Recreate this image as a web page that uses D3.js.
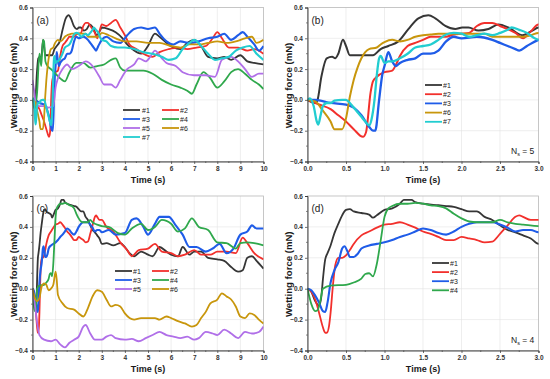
<!DOCTYPE html>
<html lang="en">
<head>
  <meta charset="UTF-8">
  <title>Wetting force</title>
  <script src="https://cdnjs.cloudflare.com/ajax/libs/d3/7.8.5/d3.min.js"></script>
  <style>
    body { margin: 0; background: #fff; }
    text { font-family: "Liberation Sans", Arial, sans-serif; }
  </style>
</head>
<body>
  <svg width="550" height="379"></svg>
  <script>
    // series for (a) and (b): [time (s), wetting force (mN)]
    const a1 = [[0,0],[0.1,-0.02],[0.13,0.0],[0.18,0.15],[0.25,0.27],[0.32,0.28],[0.36,0.27],[0.4,0.3],[0.46,0.39],[0.5,0.35],[0.55,0.29],[0.7,0.29],[0.85,0.29],[0.95,0.33],[1.05,0.35],[1.18,0.38],[1.31,0.46],[1.44,0.53],[1.57,0.55],[1.66,0.53],[1.79,0.48],[1.92,0.46],[2.01,0.47],[2.09,0.47],[2.22,0.45],[2.35,0.46],[2.48,0.49],[2.61,0.47],[2.79,0.42],[2.92,0.45],[3.0,0.47],
      [3.3,0.46],[3.6,0.44],[3.9,0.4],[4.1,0.36],[4.4,0.32],[4.7,0.3],[5.0,0.35],[5.3,0.43],[5.5,0.41],[5.8,0.37],[6.1,0.34],[6.4,0.33],[6.7,0.37],[7.0,0.39],[7.3,0.35],[7.6,0.28],[8.0,0.27],[8.3,0.28],[8.6,0.26],[9.0,0.29],[9.3,0.25],[9.6,0.24],[10,0.23]];
    const a2 = [[0,0],[0.15,-0.03],[0.3,-0.06],[0.4,-0.1],[0.5,-0.14],[0.6,-0.19],[0.72,-0.24],[0.76,-0.21],[0.82,0.05],[0.85,0.12],[0.9,0.15],[1.0,0.18],[1.1,0.19],[1.15,0.23],[1.2,0.285],[1.3,0.35],[1.4,0.37],[1.5,0.39],[1.6,0.41],[1.8,0.41],[1.9,0.425],[2.0,0.43],[2.1,0.435],[2.2,0.48],[2.3,0.5],[2.4,0.5],[2.5,0.48],[2.6,0.46],[2.7,0.435],[2.8,0.4],[2.9,0.445],[3.0,0.49],
      [3.2,0.48],[3.4,0.5],[3.6,0.52],[3.8,0.47],[4.0,0.42],[4.2,0.36],[4.5,0.33],[4.8,0.3],[5.2,0.28],[5.5,0.31],[5.9,0.33],[6.3,0.34],[6.7,0.33],[7.1,0.34],[7.5,0.35],[7.8,0.4],[8.0,0.44],[8.2,0.4],[8.5,0.34],[8.9,0.34],[9.3,0.32],[9.6,0.33],[10,0.3]];
    const a3 = [[0,0],[0.1,0.0],[0.3,-0.02],[0.5,-0.03],[0.6,-0.05],[0.7,-0.1],[0.8,-0.175],[0.85,-0.2],[0.88,-0.2],[0.93,0.0],[0.97,0.16],[1.0,0.22],[1.05,0.31],[1.1,0.25],[1.15,0.22],[1.2,0.24],[1.3,0.26],[1.4,0.27],[1.5,0.3],[1.6,0.3],[1.7,0.32],[1.8,0.38],[1.9,0.41],[2.0,0.4],[2.2,0.41],[2.4,0.39],[2.5,0.37],[2.6,0.35],[2.7,0.33],[2.75,0.32],[2.85,0.35],[3.0,0.39],
      [3.2,0.41],[3.5,0.38],[3.8,0.37],[4.1,0.42],[4.4,0.46],[4.7,0.47],[5.0,0.46],[5.3,0.47],[5.5,0.43],[5.8,0.38],[6.1,0.36],[6.4,0.38],[6.8,0.37],[7.2,0.38],[7.6,0.4],[8.0,0.41],[8.3,0.43],[8.6,0.39],[8.9,0.42],[9.1,0.44],[9.3,0.41],[9.6,0.36],[9.8,0.32],[10,0.35]];
    const a4 = [[0,0.0],[0.1,-0.06],[0.2,0.05],[0.3,0.3],[0.38,0.22],[0.45,0.39],[0.5,0.38],[0.56,0.25],[0.65,0.22],[0.8,0.2],[1.0,0.17],[1.2,0.14],[1.4,0.12],[1.6,0.18],[1.9,0.24],[2.2,0.24],[2.5,0.21],[2.8,0.22],[3.1,0.23],[3.4,0.26],[3.6,0.27],[3.8,0.21],[4.0,0.19],[4.4,0.19],[4.8,0.19],[5.2,0.17],[5.6,0.13],[6.0,0.1],[6.4,0.08],[6.7,0.06],[6.9,0.04],[7.1,0.1],[7.4,0.18],[7.7,0.14],[8.0,0.08],[8.3,0.12],[8.6,0.18],[8.9,0.2],[9.2,0.17],[9.5,0.13],[9.8,0.1],[10,0.07]];
    const a5 = [[0,0.13],[0.08,0.05],[0.15,-0.03],[0.3,-0.04],[0.5,-0.04],[0.7,-0.05],[0.9,-0.04],[1.0,0.08],[1.1,0.14],[1.3,0.2],[1.5,0.23],[1.7,0.2],[2.0,0.22],[2.3,0.25],[2.6,0.22],[2.9,0.15],[3.1,0.1],[3.4,0.1],[3.6,0.08],[3.8,0.13],[4.1,0.2],[4.4,0.23],[4.6,0.27],[4.9,0.25],[5.1,0.28],[5.3,0.32],[5.6,0.27],[5.8,0.24],[6.2,0.22],[6.5,0.18],[7.0,0.16],[7.5,0.16],[7.9,0.15],[8.2,0.26],[8.6,0.28],[8.9,0.25],[9.2,0.2],[9.5,0.15],[9.8,0.17],[10,0.17]];
    const a6 = [[0,0],[0.1,-0.01],[0.2,-0.07],[0.3,-0.14],[0.35,-0.19],[0.45,-0.19],[0.5,-0.12],[0.55,0.02],[0.6,0.13],[0.65,0.21],[0.7,0.27],[0.75,0.31],[0.8,0.33],[0.9,0.34],[0.95,0.36],[1.0,0.375],[1.1,0.39],[1.2,0.38],[1.3,0.39],[1.4,0.41],[1.5,0.42],[1.6,0.425],[1.7,0.43],[2.0,0.43],[2.3,0.43],[2.4,0.41],[2.5,0.41],[2.8,0.41],[2.9,0.42],[3.0,0.435],
      [3.3,0.42],[3.6,0.4],[4.0,0.38],[4.5,0.38],[5.0,0.37],[5.5,0.37],[6.0,0.35],[6.4,0.34],[6.8,0.36],[7.2,0.36],[7.6,0.37],[8.0,0.38],[8.4,0.37],[8.8,0.38],[9.2,0.4],[9.5,0.41],[9.7,0.37],[10,0.39]];
    const a7 = [[0,0],[0.03,0.01],[0.08,-0.04],[0.12,-0.14],[0.14,-0.16],[0.17,-0.1],[0.2,-0.04],[0.25,-0.02],[0.3,-0.02],[0.35,-0.005],[0.45,0.0],[0.5,0.0],[0.55,-0.02],[0.6,-0.05],[0.7,-0.11],[0.75,-0.14],[0.8,-0.165],[0.83,-0.13],[0.87,0.0],[0.9,0.16],[0.93,0.27],[0.95,0.285],[1.0,0.24],[1.05,0.25],[1.1,0.25],[1.2,0.27],[1.3,0.3],[1.4,0.34],[1.5,0.35],[1.6,0.36],[1.7,0.39],[1.8,0.425],[1.9,0.435],[2.0,0.43],[2.1,0.41],[2.2,0.42],[2.3,0.43],[2.4,0.42],[2.5,0.435],[2.6,0.455],[2.65,0.47],[2.75,0.455],[2.85,0.435],[2.95,0.4],[3.0,0.39],
      [3.2,0.38],[3.4,0.35],[3.7,0.34],[4.0,0.34],[4.4,0.33],[4.8,0.31],[5.2,0.3],[5.6,0.28],[5.9,0.26],[6.2,0.27],[6.5,0.33],[6.8,0.37],[7.0,0.39],[7.3,0.35],[7.6,0.3],[7.9,0.26],[8.2,0.27],[8.5,0.28],[8.8,0.32],[9.1,0.34],[9.4,0.35],[9.7,0.3],[10,0.26]];

    // series for (c) and (d)
    const c1 = [[0,0],[0.05,-0.02],[0.1,-0.08],[0.15,-0.11],[0.18,-0.05],[0.2,0.06],[0.23,0.19],[0.26,0.23],[0.3,0.28],[0.35,0.36],[0.4,0.42],[0.45,0.475],[0.5,0.51],[0.55,0.515],[0.6,0.5],[0.7,0.49],[0.8,0.48],[0.85,0.46],[0.9,0.475],[1.0,0.51],[1.1,0.52],[1.2,0.55],[1.25,0.575],[1.35,0.575],[1.4,0.56],[1.5,0.55],[1.7,0.54],[1.8,0.535],[1.9,0.53],[2.0,0.515],[2.1,0.5],[2.2,0.5],[2.3,0.465],[2.4,0.445],[2.5,0.41],[2.6,0.38],[2.7,0.365],[2.8,0.345],[2.9,0.325],[3.0,0.29],
      [3.2,0.295],[3.5,0.28],[3.8,0.295],[4.0,0.27],[4.2,0.23],[4.4,0.21],[4.7,0.24],[5.0,0.22],[5.2,0.21],[5.5,0.27],[5.8,0.24],[6.0,0.22],[6.3,0.21],[6.5,0.27],[6.8,0.22],[7.0,0.24],[7.3,0.24],[7.6,0.2],[8.0,0.19],[8.3,0.18],[8.6,0.14],[8.9,0.11],[9.1,0.12],[9.3,0.2],[9.5,0.21],[9.7,0.18],[10,0.13]];
    const c2 = [[0,0],[0.05,-0.02],[0.1,-0.07],[0.15,-0.155],[0.2,-0.25],[0.23,-0.285],[0.25,-0.285],[0.28,-0.24],[0.3,-0.155],[0.33,0.02],[0.36,0.15],[0.4,0.2],[0.45,0.2],[0.5,0.215],[0.55,0.25],[0.6,0.29],[0.7,0.345],[0.8,0.37],[0.9,0.395],[1.0,0.415],[1.1,0.42],[1.2,0.43],[1.3,0.415],[1.4,0.395],[1.5,0.37],[1.6,0.355],[1.7,0.335],[1.8,0.315],[1.9,0.315],[2.0,0.335],[2.1,0.325],[2.2,0.315],[2.3,0.3],[2.4,0.305],[2.5,0.355],[2.6,0.41],[2.7,0.465],[2.75,0.475],[2.8,0.465],[2.9,0.445],[3.0,0.445],
      [3.2,0.4],[3.5,0.37],[3.8,0.3],[4.1,0.25],[4.3,0.21],[4.6,0.25],[5.0,0.26],[5.3,0.29],[5.6,0.24],[6.0,0.23],[6.3,0.21],[6.6,0.22],[7.0,0.25],[7.3,0.22],[7.7,0.22],[8.0,0.24],[8.4,0.24],[8.8,0.23],[9.1,0.33],[9.3,0.295],[9.6,0.23],[10,0.19]];
    const c3 = [[0,0],[0.05,-0.01],[0.1,-0.045],[0.15,-0.09],[0.2,-0.145],[0.23,-0.15],[0.26,-0.09],[0.3,0.04],[0.35,0.12],[0.4,0.17],[0.45,0.26],[0.48,0.275],[0.52,0.24],[0.55,0.205],[0.6,0.205],[0.65,0.225],[0.7,0.26],[0.8,0.28],[0.9,0.29],[1.0,0.3],[1.1,0.315],[1.2,0.335],[1.3,0.35],[1.4,0.37],[1.5,0.39],[1.6,0.38],[1.7,0.36],[1.8,0.35],[1.9,0.37],[2.0,0.4],[2.1,0.42],[2.2,0.43],[2.3,0.43],[2.4,0.43],[2.5,0.415],[2.6,0.395],[2.7,0.37],[2.8,0.38],[2.9,0.38],[3.0,0.365],
      [3.3,0.38],[3.6,0.35],[4.0,0.36],[4.3,0.445],[4.5,0.455],[4.8,0.4],[5.0,0.35],[5.3,0.42],[5.5,0.465],[5.9,0.465],[6.2,0.41],[6.5,0.35],[6.8,0.27],[7.1,0.27],[7.5,0.24],[7.8,0.26],[8.1,0.29],[8.4,0.23],[8.7,0.26],[9.0,0.35],[9.3,0.37],[9.5,0.41],[9.7,0.39],[10,0.39]];
    const c4 = [[0,0],[0.05,-0.1],[0.1,-0.145],[0.13,-0.14],[0.17,-0.07],[0.2,0.0],[0.3,0.02],[0.5,0.025],[0.6,0.04],[0.7,0.065],[0.75,0.095],[0.8,0.1],[0.85,0.08],[0.9,0.16],[0.95,0.31],[1.0,0.465],[1.05,0.52],[1.1,0.535],[1.2,0.55],[1.3,0.55],[1.4,0.555],[1.5,0.55],[1.6,0.54],[1.7,0.535],[1.8,0.52],[1.9,0.485],[2.0,0.455],[2.1,0.435],[2.2,0.43],[2.4,0.43],[2.5,0.445],[2.6,0.43],[2.7,0.42],[2.8,0.415],[3.0,0.405],
      [3.3,0.4],[3.7,0.36],[4.0,0.35],[4.3,0.39],[4.7,0.42],[5.0,0.38],[5.3,0.4],[5.6,0.445],[6.0,0.42],[6.3,0.37],[6.6,0.39],[6.9,0.455],[7.2,0.4],[7.6,0.38],[8.0,0.3],[8.4,0.295],[8.8,0.26],[9.0,0.295],[9.3,0.3],[9.6,0.295],[10,0.28]];
    const c5 = [[0,0],[0.1,-0.1],[0.2,-0.22],[0.3,-0.3],[0.5,-0.33],[0.8,-0.34],[1.0,-0.33],[1.2,-0.36],[1.4,-0.38],[1.6,-0.35],[1.8,-0.33],[2.0,-0.31],[2.2,-0.245],[2.3,-0.235],[2.5,-0.29],[2.7,-0.33],[3.0,-0.33],[3.2,-0.31],[3.4,-0.3],[3.6,-0.32],[4.0,-0.33],[4.3,-0.325],[4.6,-0.34],[4.9,-0.32],[5.2,-0.3],[5.5,-0.28],[5.8,-0.3],[6.1,-0.31],[6.4,-0.32],[6.7,-0.31],[7.0,-0.33],[7.2,-0.32],[7.5,-0.28],[7.8,-0.29],[8.0,-0.3],[8.3,-0.265],[8.6,-0.29],[8.9,-0.32],[9.2,-0.28],[9.5,-0.29],[9.8,-0.28],[10,-0.245]];
    const c6 = [[0,0],[0.1,-0.06],[0.2,-0.08],[0.3,-0.06],[0.4,0.015],[0.5,0.035],[0.6,0.025],[0.7,-0.01],[0.8,0.0],[0.9,0.025],[1.0,0.11],[1.05,0.055],[1.1,-0.04],[1.3,-0.095],[1.5,-0.125],[1.8,-0.135],[2.0,-0.16],[2.2,-0.18],[2.4,-0.125],[2.6,-0.05],[2.8,-0.01],[3.0,-0.02],[3.2,-0.07],[3.4,-0.115],[3.6,-0.105],[3.8,-0.115],[4.0,-0.16],[4.2,-0.19],[4.4,-0.2],[4.7,-0.19],[5.0,-0.19],[5.3,-0.19],[5.5,-0.2],[5.8,-0.18],[6.0,-0.19],[6.3,-0.21],[6.6,-0.225],[6.9,-0.245],[7.1,-0.235],[7.3,-0.19],[7.5,-0.15],[7.7,-0.095],[8.0,-0.07],[8.2,-0.03],[8.4,-0.05],[8.6,-0.07],[8.8,-0.115],[9.0,-0.18],[9.2,-0.19],[9.4,-0.16],[9.6,-0.17],[9.8,-0.2],[10,-0.225]];

    const colors = {
      "#1": "#363636", "#2": "#f2302c", "#3": "#1f5ce8", "#4": "#2fa84c",
      "#5": "#b06fe8", "#6": "#c8960c", "#7": "#22cdd0"
    };

    const yTicks = [-0.4, -0.2, 0.0, 0.2, 0.4, 0.6];

    const svg = d3.select("svg");

    const panels = [
      { tag: "(a)", box: [32.5, 263.5, 7.5, 161.5], xMax: 10, xStep: 1, lw: 1.8,
        series: [["#1", a1], ["#2", a2], ["#3", a3], ["#4", a4], ["#5", a5], ["#6", a6], ["#7", a7]],
        legend: { cols: [[123, 142], [162, 180]], top: 110, gap: 9 } },
      { tag: "(b)", box: [307.5, 538.5, 7.5, 161.5], xMax: 3, xStep: 0.5, ns: "5", lw: 2,
        series: [["#1", a1], ["#2", a2], ["#3", a3], ["#6", a6], ["#7", a7]],
        legend: { cols: [[425, 443]], top: 85, gap: 9.2 } },
      { tag: "(c)", box: [32.5, 263.5, 196, 350.5], xMax: 10, xStep: 1, lw: 1.8,
        series: [["#1", c1], ["#2", c2], ["#3", c3], ["#4", c4], ["#5", c5], ["#6", c6]],
        legend: { cols: [[115, 133], [152, 170]], top: 271, gap: 9 } },
      { tag: "(d)", box: [307.5, 538.5, 196, 350.5], xMax: 3, xStep: 0.5, ns: "4", lw: 1.8,
        series: [["#1", c1], ["#2", c2], ["#3", c3], ["#4", c4]],
        legend: { cols: [[432, 450]], top: 263, gap: 9.1 } }
    ];

    panels.forEach((p, i) => drawPanel(p, i));

    function drawPanel(p, idx) {
      const [x0, x1, y0, y1] = p.box;
      const x = d3.scaleLinear().domain([0, p.xMax]).range([x0, x1]);
      const y = d3.scaleLinear().domain([-0.4, 0.6]).range([y1, y0]);
      const g = svg.append("g");

      const xTicks = d3.range(0, p.xMax + 1e-9, p.xStep);
      const xMinor = d3.range(p.xStep / 2, p.xMax, p.xStep);
      const yMinor = d3.range(-0.3, 0.6, 0.2);

      // grid
      g.append("g").selectAll("line").data(xTicks.slice(1, -1)).enter().append("line")
        .attr("x1", d => x(d)).attr("x2", d => x(d)).attr("y1", y0).attr("y2", y1)
        .attr("stroke", "#e2e2e2").attr("stroke-width", 0.6);
      g.append("g").selectAll("line").data(yTicks.slice(1, -1)).enter().append("line")
        .attr("x1", x0).attr("x2", x1).attr("y1", d => y(d)).attr("y2", d => y(d))
        .attr("stroke", "#e2e2e2").attr("stroke-width", 0.6);

      // frame
      g.append("rect").attr("x", x0).attr("y", y0).attr("width", x1 - x0).attr("height", y1 - y0)
        .attr("fill", "none").attr("stroke", "#b8b8b8").attr("stroke-width", 0.8);

      // curves
      const clipId = "clip" + idx;
      svg.append("clipPath").attr("id", clipId).append("rect")
        .attr("x", x0).attr("y", y0 - 2).attr("width", x1 - x0).attr("height", y1 - y0 + 4);
      const line = d3.line().x(d => x(d[0])).y(d => y(d[1])).curve(d3.curveMonotoneX);
      g.append("g").attr("clip-path", `url(#${clipId})`)
        .selectAll("path").data(p.series).enter().append("path")
        .attr("d", d => line(d[1].filter(v => v[0] <= p.xMax + 0.3)))
        .attr("fill", "none")
        .attr("stroke", d => colors[d[0]])
        .attr("stroke-width", d => (d[0] === "#3" || d[0] === "#7") ? p.lw + 0.3 : p.lw)
        .attr("stroke-linejoin", "round");

      // axes
      const xAxis = d3.axisBottom(x).tickValues(xTicks).tickSize(2.5).tickPadding(2)
        .tickFormat(p.xMax === 3 ? d3.format(".1f") : d3.format("d"));
      const yAxis = d3.axisLeft(y).tickValues(yTicks).tickSize(2.5).tickPadding(2)
        .tickFormat(d3.format(".1f"));
      const gx = g.append("g").attr("transform", `translate(0,${y1})`).call(xAxis);
      const gy = g.append("g").attr("transform", `translate(${x0},0)`).call(yAxis);
      [gx, gy].forEach(a => {
        a.select(".domain").attr("stroke", "#333").attr("stroke-width", 0.9);
        a.selectAll(".tick line").attr("stroke", "#333").attr("stroke-width", 0.7);
        a.selectAll(".tick text").attr("font-size", 6.5).attr("font-weight", "bold")
          .attr("fill", "#333").style("font-family", "Liberation Sans, Arial, sans-serif");
      });
      g.append("g").selectAll("line").data(xMinor).enter().append("line")
        .attr("x1", d => x(d)).attr("x2", d => x(d)).attr("y1", y1).attr("y2", y1 + 1.5)
        .attr("stroke", "#333").attr("stroke-width", 0.6);
      g.append("g").selectAll("line").data(yMinor).enter().append("line")
        .attr("x1", x0 - 1.5).attr("x2", x0).attr("y1", d => y(d)).attr("y2", d => y(d))
        .attr("stroke", "#333").attr("stroke-width", 0.6);

      // titles
      g.append("text").attr("x", (x0 + x1) / 2).attr("y", y1 + 21.5)
        .attr("text-anchor", "middle").attr("font-size", 9).attr("font-weight", "bold")
        .attr("fill", "#1a1a1a").text("Time (s)");
      g.append("text")
        .attr("transform", `translate(${x0 - 15.5},${(y0 + y1) / 2 + 1}) rotate(-90)`)
        .attr("text-anchor", "middle").attr("font-size", 9.6).attr("font-weight", "bold")
        .attr("fill", "#1a1a1a").text("Wetting force (mN)");

      g.append("text").attr("x", x0 + 4).attr("y", y0 + 16)
        .attr("font-size", 10).attr("fill", "#222").text(p.tag);

      if (p.ns) {
        const t = g.append("text").attr("x", x1 - 27.5).attr("y", y1 - 8)
          .attr("font-size", 8.5).attr("fill", "#222");
        t.append("tspan").text("N");
        t.append("tspan").attr("font-size", 5.5).attr("dy", 2).text("s");
        t.append("tspan").attr("dy", -2).text(" = " + p.ns);
      }

      // legend
      const L = p.legend;
      const nCols = L.cols.length;
      p.series.forEach((s, k) => {
        const col = L.cols[k % nCols];
        const row = Math.floor(k / nCols);
        const ly = L.top + row * L.gap;
        g.append("line").attr("x1", col[0]).attr("x2", col[0] + 17)
          .attr("y1", ly).attr("y2", ly)
          .attr("stroke", colors[s[0]]).attr("stroke-width", 1.8);
        g.append("text").attr("x", col[1]).attr("y", ly + 2.5)
          .attr("font-size", 7).attr("fill", "#222").text(s[0]);
      });
    }
  </script>
</body>
</html>
